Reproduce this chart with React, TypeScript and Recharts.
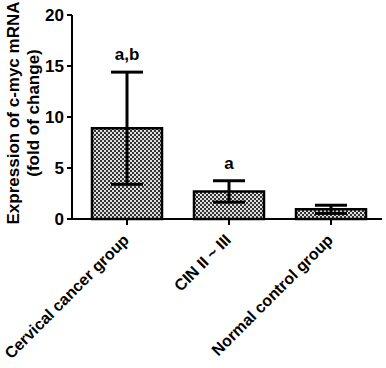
import React from "react";
import {
  BarChart,
  Bar,
  XAxis,
  YAxis,
  ErrorBar,
  LabelList,
} from "recharts";

// Relative c-myc mRNA expression per group (mean ± SD)
const groups = ["Cervical cancer group", "CIN II ~ III", "Normal control group"];
const means = [8.9, 2.7, 0.95];
const sds = [5.5, 1.05, 0.4];
const marks = ["a,b", "a", ""];
const yTicks = [0, 5, 10, 15, 20];

const data = groups.map((name, i) => ({
  name,
  value: means[i],
  sd: sds[i],
  mark: marks[i],
}));

const FONT = "Arial, 'Liberation Sans', sans-serif";

const RotatedTick = (props: any) => {
  const { x, y, payload } = props;
  return (
    <g transform={`translate(${x + 3},${y + 14})`}>
      <text
        textAnchor="end"
        transform="rotate(-45)"
        fontFamily={FONT}
        fontWeight="bold"
        fontSize={16}
        fill="#000"
      >
        {payload.value}
      </text>
    </g>
  );
};

const YLabel = () => (
  <g transform="translate(0,113) rotate(-90)">
    <text
      textAnchor="middle"
      fontFamily={FONT}
      fontWeight="bold"
      fontSize={17}
      fill="#000"
    >
      <tspan x={0} y={19}>Expression of c-myc mRNA</tspan>
      <tspan x={0} y={39}>(fold of change)</tspan>
    </text>
  </g>
);

// significance letters sit above the upper error cap
const MarkLabel = (props: any) => {
  const { x, width, index } = props;
  const d = data[index];
  if (!d.mark) return null;
  const top = 219 - ((d.value + d.sd) / 20) * 204;
  return (
    <text
      x={x + width / 2}
      y={top - 12}
      textAnchor="middle"
      fontFamily={FONT}
      fontWeight="bold"
      fontSize={17}
      fill="#000"
    >
      {d.mark}
    </text>
  );
};

export default function App() {
  return (
    <div style={{ position: "absolute", left: 0, top: 0, background: "#fff" }}>
      <BarChart
        width={386}
        height={368}
        data={data}
        margin={{ top: 15, right: 4, left: 0, bottom: 0 }}
      >
        <defs>
          <pattern id="checker" width={4} height={4} patternUnits="userSpaceOnUse">
            <rect width={4} height={4} fill="#e0e0e0" />
            <rect width={2} height={2} fill="#333" />
            <rect x={2} y={2} width={2} height={2} fill="#333" />
          </pattern>
        </defs>
        <XAxis
          dataKey="name"
          height={149}
          interval={0}
          tick={<RotatedTick />}
          tickSize={6}
          axisLine={{ stroke: "#000", strokeWidth: 2 }}
          tickLine={{ stroke: "#000", strokeWidth: 2 }}
          padding={{ left: 4, right: 0 }}
        />
        <YAxis
          width={72}
          domain={[0, 20]}
          ticks={yTicks}
          tickSize={5}
          tickMargin={3}
          axisLine={{ stroke: "#000", strokeWidth: 2 }}
          tickLine={{ stroke: "#000", strokeWidth: 2 }}
          tick={{ fill: "#000", fontFamily: FONT, fontWeight: "bold", fontSize: 17 }}
          label={<YLabel />}
        />
        <Bar
          dataKey="value"
          barSize={70}
          fill="url(#checker)"
          stroke="#000"
          strokeWidth={2.5}
          isAnimationActive={false}
        >
          <ErrorBar dataKey="sd" width={16} stroke="#000" strokeWidth={3} />
          <LabelList dataKey="mark" content={<MarkLabel />} />
        </Bar>
      </BarChart>
    </div>
  );
}
